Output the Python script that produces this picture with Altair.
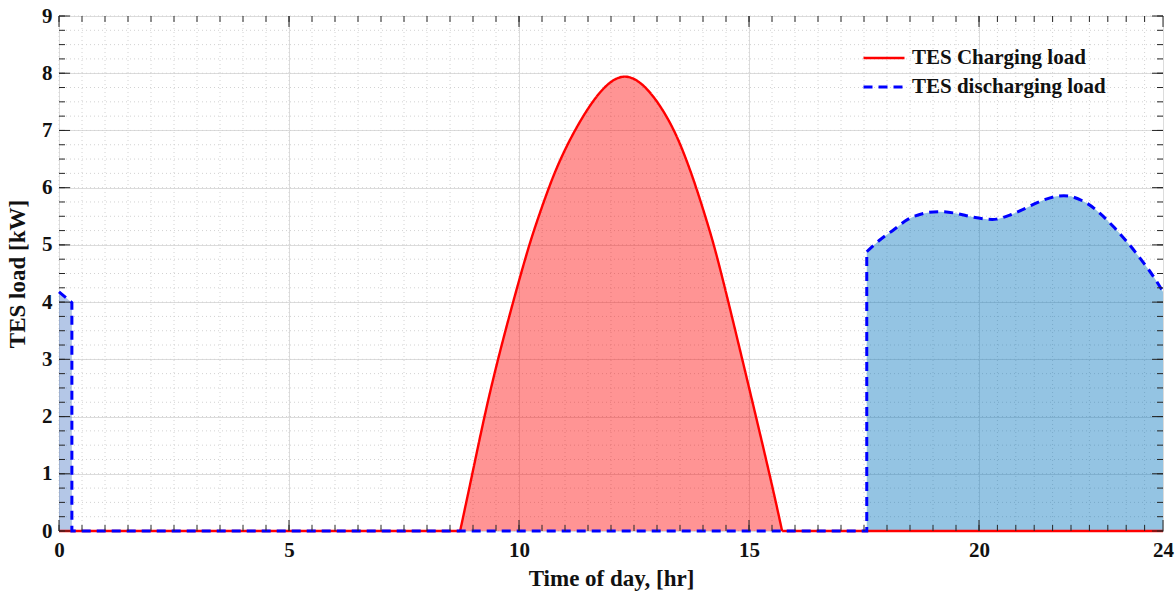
import altair as alt
import pandas as pd

W, H = 1104, 515
FONT = "Liberation Serif"

# ---- data ----
charge_t = [8.72, 9.0, 9.41, 10.12, 10.35, 10.64, 10.89, 11.25, 11.76, 12.3,
            12.85, 13.35, 13.64, 13.86, 14.12, 14.33, 14.9, 15.48, 15.72]
charge_v = [0.0, 1.05, 2.64, 4.74, 5.32, 5.99, 6.49, 7.07, 7.72, 8.05,
            7.72, 7.07, 6.49, 5.99, 5.32, 4.74, 2.85, 0.89, 0.0]

dis_left_t = [0.0, 0.28]
dis_left_v = [4.18, 3.99]

dis_t = [17.56, 17.85, 18.14, 18.46, 18.79, 19.15, 19.51, 19.84, 20.17, 20.38, 20.67,
         20.96, 21.33, 21.69, 21.98, 22.34, 22.63, 22.92, 23.21, 23.5, 23.79, 24.0]
dis_v = [4.88, 5.09, 5.26, 5.45, 5.55, 5.58, 5.55, 5.49, 5.45, 5.45, 5.52,
         5.62, 5.76, 5.85, 5.85, 5.73, 5.55, 5.32, 5.06, 4.77, 4.45, 4.18]

charge_off_t = [[0.0, 8.72], [15.72, 24.0]]
dis_off_t = [0.28, 17.56]

series_names = ["TES Charging load", "TES discharging load"]
series_colors = ["#ff0000", "#0000ff"]

x_major = [0, 5, 10, 15, 20, 24]
y_major = [0, 1, 2, 3, 4, 5, 6, 7, 8, 9]
x_minor = [i * 0.5 for i in range(41)] + [20 + i * 0.4 for i in range(1, 10)]
y_minor = [i * 0.25 for i in range(37)]

RED_INTERP = "basis"
BLUE_INTERP = "catmull-rom"

# ---- tables ----
lin_rows = []
k = 0
for s, (a, b) in enumerate(charge_off_t):
    for t in (a, b):
        lin_rows.append(dict(t=t, v=0.0, series=series_names[0], seg=f"c{s}", i=k)); k += 1
d_lin = list(zip(dis_left_t, dis_left_v)) + [(dis_off_t[0], 0.0), (dis_off_t[1], 0.0), (dis_t[0], dis_v[0])]
for t, v in d_lin:
    lin_rows.append(dict(t=t, v=v, series=series_names[1], seg="d0", i=k)); k += 1
lin_df = pd.DataFrame(lin_rows)

curve_rows = []
for t, v in zip(charge_t, charge_v):
    curve_rows.append(dict(t=t, v=v, series=series_names[0], seg="c2"))
for t, v in zip(dis_t, dis_v):
    curve_rows.append(dict(t=t, v=v, series=series_names[1], seg="d1"))
curve_df = pd.DataFrame(curve_rows)

charge_df = pd.DataFrame(dict(t=charge_t, v=charge_v))
dis_df = pd.DataFrame(dict(t=dis_t, v=dis_v))
dis_left_df = pd.DataFrame(dict(t=dis_left_t, v=dis_left_v))

xmaj_df = pd.DataFrame(dict(t=x_major))
ymaj_df = pd.DataFrame(dict(v=y_major))
xmin_df = pd.DataFrame(dict(t=x_minor))
ymin_df = pd.DataFrame(dict(v=y_minor))

# ---- encodings ----
xs = alt.Scale(domain=[0, 24], nice=False, zero=False)
ys = alt.Scale(domain=[0, 9], nice=False)
x_enc = alt.X("t:Q", scale=xs, title="Time of day, [hr]",
              axis=alt.Axis(values=x_major, ticks=False, domain=False, grid=True,
                            gridColor="#dcdcdc", gridWidth=1, labelFlush=False,
                            labelPadding=8, titlePadding=7, format="d"))
y_enc = alt.Y("v:Q", scale=ys, title="TES load [kW]",
              axis=alt.Axis(values=y_major, ticks=False, domain=False, grid=True,
                            gridColor="#dcdcdc", gridWidth=1, labelFlush=False,
                            labelPadding=7, titlePadding=12, format="d"))

leg = alt.Legend(title=None, orient="none", legendX=803, legendY=32,
                 symbolType="stroke", symbolSize=1681, symbolStrokeWidth=2.6,
                 labelFont=FONT, labelFontSize=21, labelFontWeight="bold",
                 labelColor="#111111", labelOffset=6, labelLimit=400,
                 rowPadding=8, clipHeight=20, padding=0)
color_enc = alt.Color("series:N", scale=alt.Scale(domain=series_names, range=series_colors), legend=leg)
dash_enc = alt.StrokeDash("series:N", scale=alt.Scale(domain=series_names, range=[[1, 0], [9, 6]]), legend=leg)
size_enc = alt.StrokeWidth("series:N", scale=alt.Scale(domain=series_names, range=[2.4, 3.0]), legend=None)

# ---- layers ----
MINOR = "#d2d2d2"
minor_vgrid = alt.Chart(xmin_df).mark_rule(color=MINOR, strokeDash=[1, 3], strokeWidth=1).encode(x=x_enc)
minor_hgrid = alt.Chart(ymin_df).mark_rule(color=MINOR, strokeDash=[1, 3], strokeWidth=1).encode(y=y_enc)

area_red = alt.Chart(charge_df).mark_area(interpolate=RED_INTERP, color="#ff0000", opacity=0.42).encode(x=x_enc, y=y_enc)
area_blue = alt.Chart(dis_df).mark_area(interpolate=BLUE_INTERP, color="#0072bd", opacity=0.42).encode(x=x_enc, y=y_enc)
area_blue_left = alt.Chart(dis_left_df).mark_area(color="#4472c4", opacity=0.4).encode(x=x_enc, y=y_enc)

def line_layer(df, sname, interp=None, ordered=False):
    mk = dict(clip=False)
    if interp:
        mk["interpolate"] = interp
    enc = dict(x=x_enc, y=y_enc, color=color_enc, strokeDash=dash_enc, strokeWidth=size_enc, detail="seg:N")
    if ordered:
        enc["order"] = "i:Q"
    return alt.Chart(df).transform_filter(alt.datum.series == sname).mark_line(**mk).encode(**enc)

red_lin = line_layer(lin_df, series_names[0], ordered=True)
red_curve = line_layer(curve_df, series_names[0], interp=RED_INTERP)
blue_lin = line_layer(lin_df, series_names[1], ordered=True)
blue_curve = line_layer(curve_df, series_names[1], interp=BLUE_INTERP)

TC = "#262626"
def vt(df, y0, y1):
    return alt.Chart(df).mark_rule(color=TC, strokeWidth=1).encode(x=x_enc, y=alt.value(y0), y2=alt.value(y1))
def ht(df, x0, x1):
    return alt.Chart(df).mark_rule(color=TC, strokeWidth=1).encode(y=y_enc, x=alt.value(x0), x2=alt.value(x1))

ticks = [
    vt(xmin_df, H, H - 6), vt(xmaj_df, H, H - 11),
    vt(xmin_df, 0, 6), vt(xmaj_df, 0, 11),
    ht(ymin_df, 0, 6), ht(ymaj_df, 0, 11),
    ht(ymin_df, W, W - 6), ht(ymaj_df, W, W - 11),
]

chart = alt.layer(
    minor_vgrid, minor_hgrid,
    area_blue_left, area_red, area_blue,
    red_lin, red_curve, blue_lin, blue_curve,
    *ticks,
).properties(
    width=W, height=H,
    background="white",
    autosize=alt.AutoSizeParams(type="none"),
    padding={"left": 59, "top": 16, "right": 12, "bottom": 61},
).configure_view(
    stroke="#262626", strokeWidth=1
).configure_axis(
    labelFont=FONT, labelFontSize=21, labelFontWeight="bold", labelColor="#111111",
    titleFont=FONT, titleFontSize=23, titleFontWeight="bold", titleColor="#111111",
)

chart.save("out.html", embed_options={"renderer": "svg", "actions": False})
